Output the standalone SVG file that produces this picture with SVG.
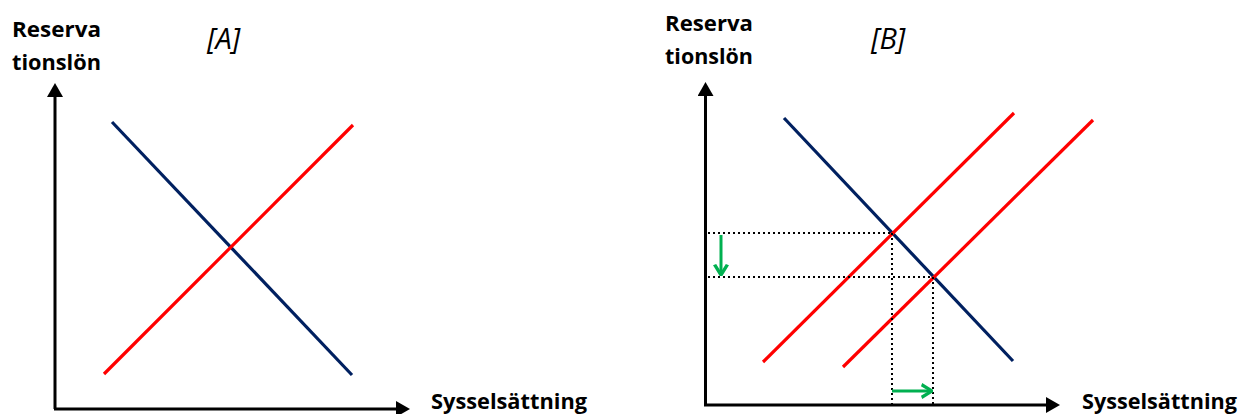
<svg xmlns="http://www.w3.org/2000/svg" width="1239" height="414" viewBox="0 0 1239 414">
<style>
.lbl{font-family:"Open Sans","Liberation Sans",sans-serif;font-weight:bold;font-size:21px;fill:#000}
.ax{font-family:"Open Sans","Liberation Sans",sans-serif;font-weight:bold;font-size:22px;fill:#000}
.ttl{font-family:"Open Sans","Liberation Sans",sans-serif;font-style:italic;font-size:29px;fill:#000}
.axis{stroke:#000;stroke-width:3;fill:none}
.dem{stroke:#002060;stroke-width:3.2;fill:none}
.sup{stroke:#FF0000;stroke-width:3.2;fill:none}
.dot{stroke:#000;stroke-width:2;stroke-dasharray:2 3;fill:none}
.grn{stroke:#00B050;stroke-width:3;fill:none}
</style>
<defs>
<marker id="ah" viewBox="0 0 10 10" refX="0" refY="5" markerWidth="14" markerHeight="16" markerUnits="userSpaceOnUse" orient="auto" preserveAspectRatio="none">
<path d="M0,0 L10,5 L0,10 z" fill="#000"/>
</marker>
<marker id="gh" viewBox="0 0 10 10" refX="9" refY="5" markerWidth="13" markerHeight="16" markerUnits="userSpaceOnUse" orient="auto" preserveAspectRatio="none">
<path d="M1,1 L9,5 L1,9" fill="none" stroke="#00B050" stroke-width="2.2"/>
</marker>
</defs>
<g id="panelA">
<g id="axesA">
<path class="axis" d="M55,409 L55,97" marker-end="url(#ah)"/>
<path class="axis" d="M54,409 L396,409" marker-end="url(#ah)"/>
</g>
<text class="lbl" x="12" y="37" textLength="89" lengthAdjust="spacingAndGlyphs">Reserva</text>
<text class="lbl" x="12" y="70" textLength="89" lengthAdjust="spacingAndGlyphs">tionslön</text>
<text class="ttl" x="207" y="49">[A]</text>
<text class="ax" x="431" y="409" textLength="156" lengthAdjust="spacingAndGlyphs">Sysselsättning</text>
<g id="curvesA">
<line id="demandA" class="dem" x1="112" y1="122" x2="352" y2="375"/>
<line id="supplyA" class="sup" x1="104" y1="374" x2="353" y2="125"/>
</g>
</g>
<g id="panelB">
<g id="axesB">
<path class="axis" d="M705.5,405 L705.5,96" marker-end="url(#ah)"/>
<path class="axis" d="M704,405 L1046,405" marker-end="url(#ah)"/>
</g>
<text class="lbl" x="665" y="31" textLength="88" lengthAdjust="spacingAndGlyphs">Reserva</text>
<text class="lbl" x="665" y="64" textLength="88" lengthAdjust="spacingAndGlyphs">tionslön</text>
<text class="ttl" x="871" y="49">[B]</text>
<text class="ax" x="1082" y="409" textLength="155" lengthAdjust="spacingAndGlyphs">Sysselsättning</text>
<g id="curvesB">
<line id="demandB" class="dem" x1="784" y1="118" x2="1013" y2="361"/>
<line id="supply1B" class="sup" x1="763" y1="362" x2="1014" y2="113"/>
<line id="supply2B" class="sup" x1="843" y1="367" x2="1093" y2="120"/>
</g>
<g id="connectors">
<line class="dot" x1="708" y1="233" x2="892" y2="233"/>
<line class="dot" x1="708" y1="277" x2="933" y2="277"/>
<line class="dot" x1="892" y1="233" x2="892" y2="404"/>
<line class="dot" x1="933" y1="277" x2="933" y2="404"/>
<line class="grn" x1="721" y1="235" x2="721" y2="275" marker-end="url(#gh)"/>
<line class="grn" x1="892" y1="391" x2="932" y2="391" marker-end="url(#gh)"/>
</g>
</g>
</svg>
